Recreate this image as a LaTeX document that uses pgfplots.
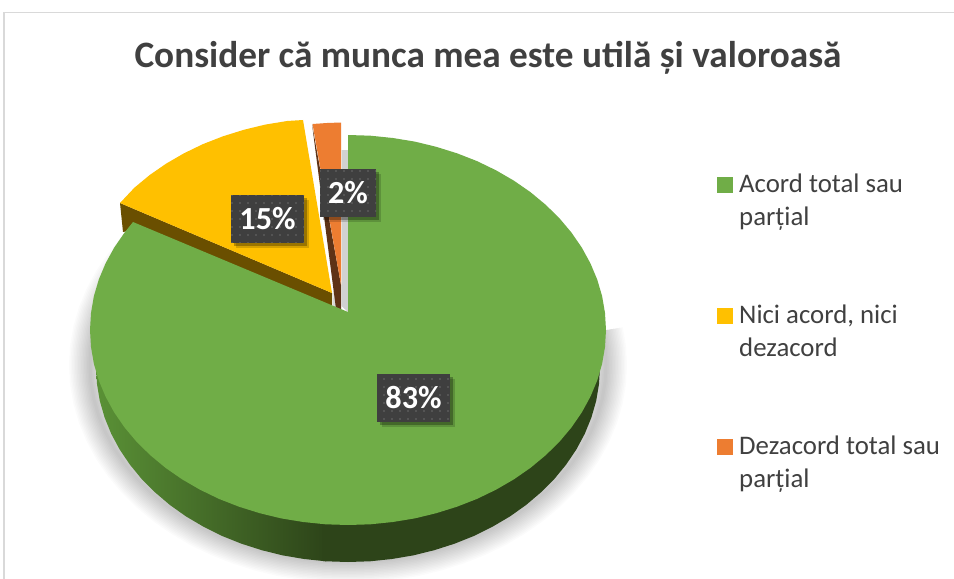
\documentclass[border=0pt]{standalone}
\usepackage{fontspec}
\setmainfont{Carlito}
\usepackage{pgfplots}
\usepackage{pgfplotstable}
\pgfplotsset{compat=1.18}
\usetikzlibrary{shadows,patterns.meta}

\definecolor{verde}{HTML}{70AD47}
\definecolor{galben}{HTML}{FFC000}
\definecolor{portocaliu}{HTML}{ED7D31}
\definecolor{verdeinchis}{HTML}{2D4419}
\definecolor{verdelat}{HTML}{5A9136}
\definecolor{galbeninchis}{HTML}{6A4F00}
\definecolor{maro}{HTML}{5F3316}
\definecolor{textgri}{HTML}{404040}
\definecolor{chenar}{HTML}{D9D9D9}
\definecolor{eticheta}{HTML}{3F3F3F}

% top face of the large slice, pixel coordinates of the picture
\pgfplotstableread{
x y
348 135
370.5 135.7
392.8 138.0
414.8 141.6
436.2 146.8
457.0 153.3
477 161.1
496 170.3
513.8 180.6
530.4 192.1
545.6 204.7
559.3 218.1
571.4 232.5
581.8 247.6
590.4 263.3
597.2 279.5
602.1 296.1
605 313
606 330
605 347
602.1 363.9
597.2 380.5
590.4 396.7
581.8 412.4
571.4 427.5
559.3 441.9
545.6 455.3
530.4 467.9
513.8 479.4
496 489.7
477 498.9
457 506.7
436.2 513.2
414.8 518.4
392.8 522
370.5 524.3
348 525
325.5 524.3
303.2 522
281.2 518.4
259.8 513.2
239 506.7
219 498.9
200 489.7
182.2 479.4
165.6 467.9
150.4 455.3
136.7 441.9
124.6 427.5
114.2 412.4
105.6 396.7
98.8 380.5
93.9 363.9
91 347
90 330
91 313
93.9 296.1
98.8 279.5
105.6 263.3
114.2 247.6
124.6 232.5
133 222
348 312
}\feliaverde

% wall of the large slice, dark part on the right
\pgfplotstableread{
x y
322 350
600 350
600 367
599 384
596.2 400.9
591.4 417.5
584.8 433.7
576.4 449.4
566.2 464.5
554.4 478.9
541 492.3
526.2 504.9
510 516.4
492.5 526.7
474 535.9
454.5 543.7
434.2 550.2
413.2 555.4
391.8 559
370 561.3
348 562
326 561.3
322 560.9
}\peretedreapta

% wall of the large slice, shaded part on the left
\pgfplotstableread{
x y
326 350
326 561.3
304.2 559
282.8 555.4
261.8 550.2
241.5 543.7
222 535.9
203.5 526.7
186 516.4
169.8 504.9
155 492.3
141.6 478.9
129.8 464.5
119.6 449.4
111.2 433.7
104.6 417.5
99.8 400.9
97 384
96 367
96 350
}\peretestanga

% soft shadow under the pie
\pgfplotstableread{
x y
602.1 330.8
605 347.8
606 365
605 382.2
602.1 399.2
597.2 416
590.4 432.4
581.8 448.3
571.4 463.5
559.3 478
545.6 491.6
530.4 504.3
513.8 515.9
496 526.4
477 535.6
457 543.5
436.2 550.1
414.8 555.3
392.8 559
370.5 561.3
348 562
325.5 561.3
303.2 559
281.2 555.3
259.8 550.1
239 543.5
219 535.6
200 526.4
182.2 515.9
165.6 504.3
150.4 491.6
136.7 478
124.6 463.5
114.2 448.3
105.6 432.4
98.8 416
93.9 399.2
91 382.2
90 365
91 347.8
93.9 330.8
98.8 314
105.6 297.6
114.2 281.7
124.6 266.5
136.7 252
150.4 238.4
}\umbra

\tikzset{
    eticheta pie/.style={
        anchor=center, text=white, inner sep=0pt,
        minimum height=47.5bp,
        minimum width=#1,
        font=\fontsize{32.3}{34}\selectfont\bfseries,
        fill=eticheta,
        drop shadow={shadow xshift=4.5bp, shadow yshift=-5bp, opacity=0.16, fill=black},
        drop shadow={shadow xshift=2.5bp, shadow yshift=-3bp, opacity=0.28, fill=black},
        postaction={pattern={Dots[distance=8bp,radius=0.8bp]}, pattern color=black!58},
    },
}

\begin{document}
\begin{tikzpicture}
\begin{axis}[
    scale only axis,
    width=954bp,
    height=579bp,
    xmin=0, xmax=954,
    ymin=0, ymax=579,
    y dir=reverse,
    hide axis,
    title={\fontsize{37.4}{40}\selectfont\bfseries Consider că munca mea este utilă și valoroasă},
    title style={at={(axis description cs:0.5115,0.8735)}, anchor=base, text=textgri},
]
% background and frame
\addplot[forget plot, fill=white, draw=none] coordinates {(0,0) (954,0) (954,579) (0,579)};
\addplot[forget plot, draw=chenar, line width=1.5bp] coordinates {(4,579) (4,12.5) (954,12.5)};

% stacked strokes give the blur of the shadow
\pgfplotsinvokeforeach{3,6,9,12,15,18,21,24,27,30,33,36,39,42}{
    \addplot[forget plot, draw=black, opacity=0.016, line width=#1bp, line join=round] table {\umbra};
}

% shadow in the gap between the slices
\addplot[forget plot, fill=black!18, draw=none] coordinates {(341.5,150) (348,150) (348,312) (341.5,306)};
\addplot[forget plot, fill=black!15, draw=none] coordinates {(333.5,290) (337,309) (333,306)};

% walls
\addplot[forget plot, shade, left color=verdelat, right color=verdeinchis, draw=none] table {\peretestanga};
\addplot[forget plot, fill=verdeinchis, draw=none] table {\peretedreapta};
\addplot[forget plot, fill=galbeninchis, draw=none] coordinates {(120,203) (332,293) (332,310) (133,230) (123,232)};
\addplot[forget plot, fill=maro, draw=none] coordinates {(312,124) (336,309) (341,309) (341,285)};

% top faces
\addplot[forget plot, fill=galben, draw=none] coordinates {
    (120,203) (134.4,187.7) (149.6,175.1) (166.2,163.6) (184,153.3) (203,144.1)
    (223,136.3) (243.8,129.8) (265.2,124.6) (287.2,121) (303,120) (332,293)};
\addplot[forget plot, fill=portocaliu, draw=none] coordinates {(312.5,124) (327,123) (341,122.5) (341,285)};
\addplot[forget plot, fill=verde, draw=none] table {\feliaverde};

% value labels
\addplot[forget plot, draw=none, mark=none,
    point meta=explicit symbolic,
    nodes near coords,
    every node near coord/.style={eticheta pie=73bp},
] coordinates {(267.5,219)[15\%] (413.5,398)[83\%]};
\addplot[forget plot, draw=none, mark=none,
    point meta=explicit symbolic,
    nodes near coords,
    every node near coord/.style={eticheta pie=56bp},
] coordinates {(348,193)[2\%]};

% legend swatches and texts
\addplot[forget plot, only marks, mark=square*, mark size=7.5bp, color=verde, line width=0pt] coordinates {(724.5,184.5)};
\addplot[forget plot, only marks, mark=square*, mark size=7.5bp, color=galben, line width=0pt] coordinates {(724.5,315.5)};
\addplot[forget plot, only marks, mark=square*, mark size=7.5bp, color=portocaliu, line width=0pt] coordinates {(724.5,446.5)};
\node[anchor=base west, inner sep=0pt, text=textgri, align=left, font=\fontsize{26.9}{33}\selectfont] at (axis cs:739,225) {Acord total sau\\parțial};
\node[anchor=base west, inner sep=0pt, text=textgri, align=left, font=\fontsize{26.9}{33}\selectfont] at (axis cs:739,356) {Nici acord, nici\\dezacord};
\node[anchor=base west, inner sep=0pt, text=textgri, align=left, font=\fontsize{26.9}{33}\selectfont] at (axis cs:739,487) {Dezacord total sau\\parțial};
\end{axis}
\end{tikzpicture}
\end{document}
